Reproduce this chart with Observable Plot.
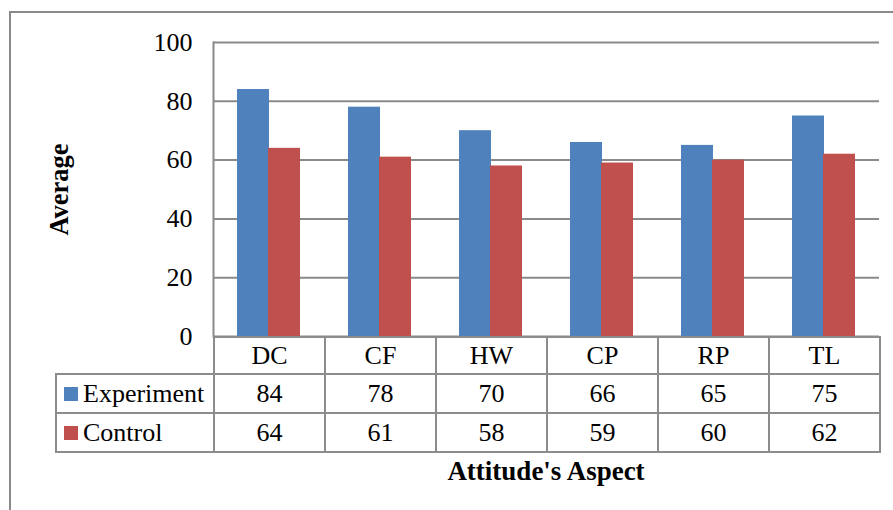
<!DOCTYPE html>
<html><head><meta charset="utf-8">
<script src="https://cdn.jsdelivr.net/npm/d3@7"></script>
<script src="https://cdn.jsdelivr.net/npm/@observablehq/plot@0.6"></script>
<style>
html,body{margin:0;padding:0;background:#fff;}
#wrap{position:relative;width:893px;height:510px;overflow:hidden;font-family:"Liberation Serif","Times New Roman",serif;color:#000;}
#frame{position:absolute;left:9px;top:11px;width:900px;height:600px;border-top:2px solid #8a8a8a;border-left:2px solid #8a8a8a;}
#chart{position:absolute;left:0;top:0;}
#chart svg{overflow:visible;}
#chart [aria-label="y-axis label"]{font-weight:bold;font-size:26.5px;}
#tbl{position:absolute;left:55px;top:336px;border-collapse:collapse;table-layout:fixed;font-size:26px;width:824px;}
#tbl td{border:2px solid #8c8c8c;text-align:center;padding:0;line-height:1;}
#tbl td.blank{border:none;}
#tbl td.leg{text-align:left;padding-left:7px;white-space:nowrap;}
#tbl .sw{display:inline-block;width:14px;height:14px;margin-right:5px;vertical-align:1px;}
#xlabel{position:absolute;left:213px;width:666px;top:456px;text-align:center;font-weight:bold;font-size:27px;}
</style></head>
<body>
<div id="wrap">
  <div id="frame"></div>
  <div id="chart"></div>
  <table id="tbl"></table>
  <div id="xlabel"></div>
</div>
<script>
const categories = ["DC","CF","HW","CP","RP","TL"];
const seriesNames = ["Experiment","Control"];
const experiment = [84,78,70,66,65,75];
const control = [64,61,58,59,60,62];
const yTicks = [0,20,40,60,80,100];
const seriesColors = ["#4f81bd","#c0504d"];
const yTitle = "Average";
const xTitle = "Attitude's Aspect";

const seriesValues = [experiment, control];
const rows = categories.flatMap((c,i)=>seriesNames.map((s,j)=>({category:c, series:s, value:seriesValues[j][i]})));

const font = '"Liberation Serif","Times New Roman",serif';
const chart = Plot.plot({
  width: 893, height: 360,
  marginLeft: 213, marginRight: 14, marginTop: 42, marginBottom: 24,
  style: {fontFamily: font, fontSize: "26px", color: "#000", background: "transparent", overflow: "visible"},
  x: {domain: categories, padding: 0, axis: null},
  y: {domain: [0,100]},
  color: {domain: seriesNames, range: seriesColors},
  marks: [
    Plot.ruleY(yTicks, {stroke: "#8a8a8a", strokeWidth: 2}),
    Plot.frame({anchor: "left", stroke: "#8a8a8a", strokeWidth: 2}),
    Plot.barY(rows.filter(d=>d.series===seriesNames[0]), {x:"category", y:"value", fill:"series", insetLeft:24, insetRight:55}),
    Plot.barY(rows.filter(d=>d.series===seriesNames[1]), {x:"category", y:"value", fill:"series", insetLeft:55, insetRight:24}),
    Plot.axisY({ticks: yTicks, tickSize: 0, tickPadding: 21, label: yTitle, labelAnchor: "center", labelOffset: 164, labelArrow: "none", fontSize: 26})
  ]
});
document.getElementById("chart").appendChild(chart);

// data table
const tbl = d3.select("#tbl");
const cg = tbl.append("colgroup");
cg.append("col").style("width","158px");
categories.forEach(()=>cg.append("col").style("width","111px"));
const head = tbl.append("tr").style("height","37px");
head.append("td").attr("class","blank");
categories.forEach(c=>head.append("td").text(c));
seriesNames.forEach((s,j)=>{
  const tr = tbl.append("tr").style("height","39px");
  const td = tr.append("td").attr("class","leg");
  td.append("span").attr("class","sw").style("background", seriesColors[j]);
  td.append("span").text(s);
  seriesValues[j].forEach(v=>tr.append("td").text(v));
});
document.getElementById("xlabel").textContent = xTitle;
</script>
</body></html>
